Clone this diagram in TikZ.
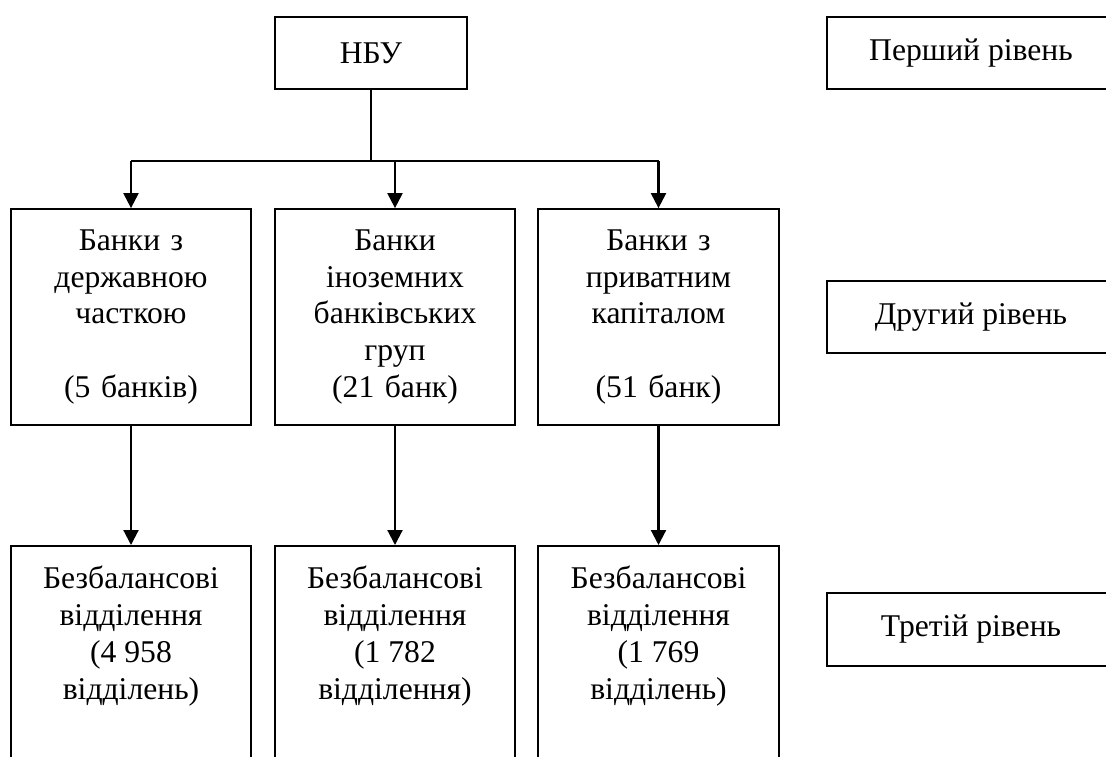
\documentclass[tikz,border=0pt]{standalone}
\usepackage{fontspec}
\setmainfont{Liberation Serif}
\usetikzlibrary{arrows.meta}

\tikzset{
	box/.style={draw, line width=1pt, align=center, inner sep=0pt},
	link/.style={line width=1.2pt, -{Triangle[length=0.3cm,width=0.3cm]}}
}

\begin{document}
\begin{tikzpicture}[font=\fontsize{18}{20.9}\selectfont]
	\clip (0,0) rectangle (22.12,-15.12);
	\node[box, minimum width=3.84cm, minimum height=1.44cm] (nbu) at (7.42,-1.06) {НБУ};
	\node[box, minimum width=5.76cm, minimum height=1.44cm] (lvl1) at (19.42,-1.06) {Перший рівень};
	\node[box, minimum width=5.76cm, minimum height=1.44cm] (lvl2) at (19.42,-6.34) {Другий рівень};
	\node[box, minimum width=5.76cm, minimum height=1.46cm] (lvl3) at (19.42,-12.59) {Третій рівень};
	\node[box, text width=4.8cm, minimum height=4.32cm] (bank1) at (2.62,-6.34) {Банки з\\державною\\часткою\\[\baselineskip](5 банків)};
	\node[box, text width=4.8cm, minimum height=4.32cm] (bank2) at (7.90,-6.34) {Банки\\іноземних\\банківських\\груп\\(21 банк)};
	\node[box, text width=4.82cm, minimum height=4.32cm] (bank3) at (13.17,-6.34) {Банки з\\приватним\\капіталом\\[\baselineskip](51 банк)};
	\node[box, anchor=north] (dep1) at (2.62,-10.9) {\parbox[t][5cm][t]{4.8cm}{\centering\rule{0pt}{0.86cm}Безбалансові\\відділення\\(4 958\\відділень)}};
	\node[box, anchor=north] (dep2) at (7.90,-10.9) {\parbox[t][5cm][t]{4.8cm}{\centering\rule{0pt}{0.86cm}Безбалансові\\відділення\\(1 782\\відділення)}};
	\node[box, anchor=north] (dep3) at (13.17,-10.9) {\parbox[t][5cm][t]{4.82cm}{\centering\rule{0pt}{0.86cm}Безбалансові\\відділення\\(1 769\\відділень)}};
	\coordinate (bus) at (7.42,-3.22);
	\draw[line width=1.2pt] (nbu.south) -- (bus);
	\draw[line width=1.2pt] (bank1.north |- bus) -- (bank3.north |- bus);
	\foreach \i in {1,2,3}{
		\draw[link] (bank\i.north |- bus) -- (bank\i.north);
		\draw[link] (bank\i.south) -- (dep\i.north);
	}
\end{tikzpicture}
\end{document}
